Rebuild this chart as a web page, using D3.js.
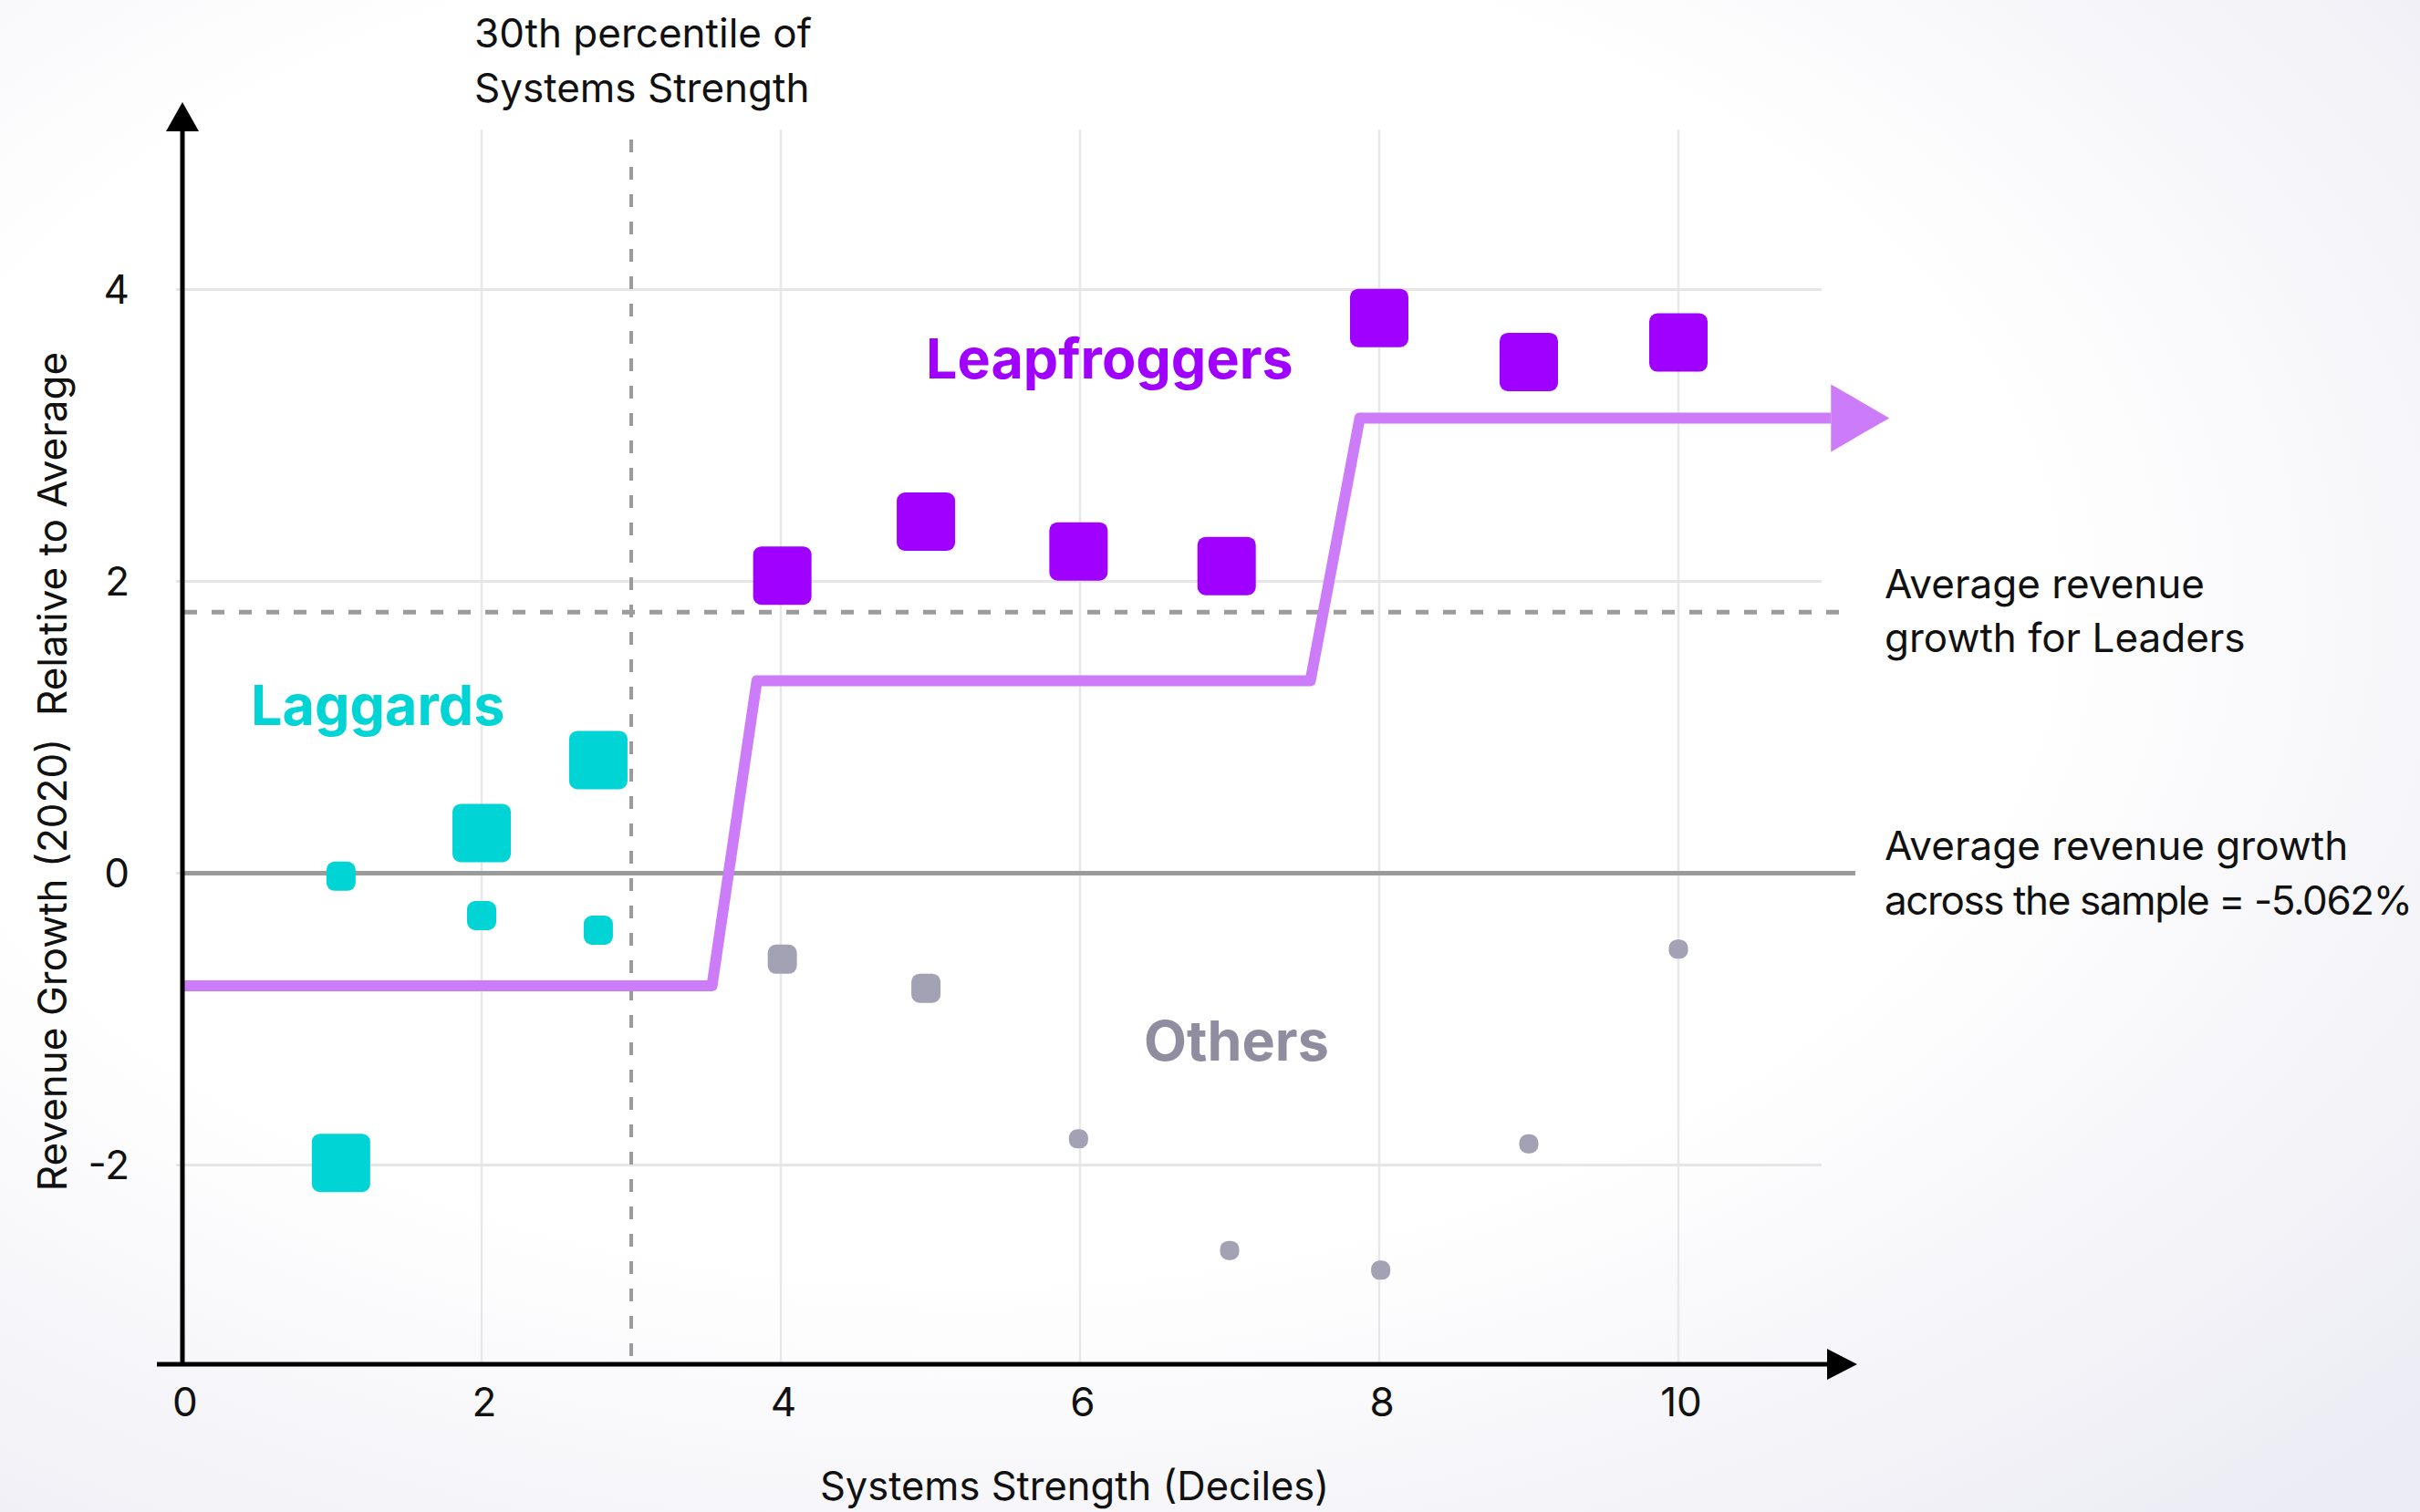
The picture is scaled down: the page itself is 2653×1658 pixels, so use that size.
<!DOCTYPE html>
<html>
<head>
<meta charset="utf-8">
<script src="https://cdn.jsdelivr.net/npm/d3@7"></script>
<style>
  body { margin: 0; padding: 0; overflow: hidden; }
  svg { display: block; }
</style>
</head>
<body>
<div id="chart"></div>
<script>
// data
var laggardX = [1.06, 1.06, 2.0, 2.0, 2.78, 2.78];
var laggardY = [-0.02, -1.985, 0.276, -0.29, 0.776, -0.39];
var laggardW = [2, 3, 3, 2, 3, 2];

var leapX = [4.01, 4.97, 5.99, 6.98, 8.0, 9.0, 10.0];
var leapY = [2.04, 2.41, 2.206, 2.106, 3.806, 3.504, 3.638];
var leapW = [3, 3, 3, 3, 3, 3, 3];

var otherX = [4.01, 4.97, 5.99, 7.0, 8.01, 9.0, 10.0];
var otherY = [-0.589, -0.788, -1.82, -2.585, -2.72, -1.854, -0.52];
var otherW = [2, 2, 1, 1, 1, 1, 1];

var stepX = [0, 3.54, 3.84, 7.54, 7.87, 11.02];
var stepY = [-0.771, -0.771, 1.32, 1.32, 3.12, 3.12];

var xTicks = [0, 2, 4, 6, 8, 10];
var yTicks = [-2, 0, 2, 4];
var percentileX = 3;
var leadersAvg = 1.79;
var sampleAvg = 0;

const width = 2653;
const height = 1658;

const svg = d3.select('#chart').append('svg').attr('width', width).attr('height', height);

// soft background
const defs = svg.append('defs');
const bg = defs.append('radialGradient').attr('id', 'bg')
  .attr('cx', '40%').attr('cy', '40%').attr('r', '80%');
bg.append('stop').attr('offset', '55%').attr('stop-color', '#ffffff');
bg.append('stop').attr('offset', '100%').attr('stop-color', '#ececf4');
svg.append('rect').attr('width', width).attr('height', height).attr('fill', 'url(#bg)');

const x = d3.scaleLinear().domain([0, 10]).range([200, 1840]);
const y = d3.scaleLinear().domain([-2, 4]).range([1277.6, 317.6]);

const plotTop = 142, plotBottom = 1496, plotRight = 1997;

// grid
const grid = svg.append('g');
grid.selectAll('.vg').data(xTicks.filter(d => d > 0)).enter().append('line')
  .attr('x1', d => x(d)).attr('x2', d => x(d))
  .attr('y1', plotTop).attr('y2', plotBottom)
  .attr('stroke', '#e8e8ea').attr('stroke-width', 2.5);
grid.selectAll('.hg').data(yTicks).enter().append('line')
  .attr('x1', 193).attr('x2', plotRight)
  .attr('y1', d => y(d)).attr('y2', d => y(d))
  .attr('stroke', '#e6e6e8').attr('stroke-width', 3);

// reference lines
svg.append('line')
  .attr('x1', 202).attr('x2', 2034)
  .attr('y1', y(sampleAvg)).attr('y2', y(sampleAvg))
  .attr('stroke', '#9b9b9b').attr('stroke-width', 5);
svg.append('line')
  .attr('x1', 202).attr('x2', 2029)
  .attr('y1', y(leadersAvg)).attr('y2', y(leadersAvg))
  .attr('stroke', '#9b9b9b').attr('stroke-width', 5)
  .attr('stroke-dasharray', '14,16');
svg.append('line')
  .attr('x1', x(percentileX)).attr('x2', x(percentileX))
  .attr('y1', 153).attr('y2', plotBottom)
  .attr('stroke', '#9b9b9b').attr('stroke-width', 4)
  .attr('stroke-dasharray', '14,16');

// step trend
const stepData = stepX.map((d, i) => [d, stepY[i]]);
const line = d3.line().x(d => x(d[0])).y(d => y(d[1]));
svg.append('path').datum(stepData)
  .attr('d', line)
  .attr('fill', 'none')
  .attr('stroke', '#cd7cf9')
  .attr('stroke-width', 12)
  .attr('stroke-linejoin', 'round');
const last = stepData[stepData.length - 1];
const ax = x(last[0]), ay = y(last[1]);
svg.append('path')
  .attr('d', `M${ax},${ay - 37}L${ax + 64},${ay}L${ax},${ay + 37}Z`)
  .attr('fill', '#cd7cf9');

// points
const sizeScale = d3.scaleOrdinal().domain([1, 2, 3]).range([21, 32, 64]);
function drawGroup(xs, ys, ws, color) {
  const pts = xs.map((d, i) => ({ x: d, y: ys[i], w: ws[i] }));
  svg.append('g').selectAll('rect').data(pts).enter().append('rect')
    .attr('x', d => x(d.x) - sizeScale(d.w) / 2)
    .attr('y', d => y(d.y) - sizeScale(d.w) / 2)
    .attr('width', d => sizeScale(d.w))
    .attr('height', d => sizeScale(d.w))
    .attr('rx', d => Math.min(9, sizeScale(d.w) / 2 - 1))
    .attr('fill', color);
}
drawGroup(otherX, otherY, otherW, '#a3a1b4');
drawGroup(laggardX, laggardY, laggardW, '#00d4d4');
drawGroup(leapX, leapY, leapW, '#a000ff');

// axes
svg.append('line').attr('x1', 200).attr('x2', 200).attr('y1', plotBottom).attr('y2', 140)
  .attr('stroke', '#000').attr('stroke-width', 5);
svg.append('path').attr('d', 'M182,144L200,112L218,144Z').attr('fill', '#000');
svg.append('line').attr('x1', 172).attr('x2', 2006).attr('y1', plotBottom).attr('y2', plotBottom)
  .attr('stroke', '#000').attr('stroke-width', 5);
svg.append('path').attr('d', `M2003,${plotBottom - 17}L2036,${plotBottom}L2003,${plotBottom + 17}Z`).attr('fill', '#000');

const font = 'Inter, sans-serif';

svg.selectAll('.xt').data(xTicks).enter().append('text')
  .attr('x', d => x(d) + 3).attr('y', 1553)
  .attr('text-anchor', 'middle')
  .attr('font-family', font).attr('font-size', 44).attr('fill', '#111')
  .text(d => d);
svg.selectAll('.yt').data(yTicks).enter().append('text')
  .attr('x', 142).attr('y', d => y(d) + 15)
  .attr('text-anchor', 'end')
  .attr('font-family', font).attr('font-size', 44).attr('fill', '#111')
  .text(d => d);

// axis titles
svg.append('text')
  .attr('x', 1178).attr('y', 1645)
  .attr('text-anchor', 'middle')
  .attr('font-family', font).attr('font-size', 43.5).attr('fill', '#111')
  .text('Systems Strength (Deciles)');
svg.append('text')
  .attr('transform', 'translate(73,846) rotate(-90)')
  .attr('text-anchor', 'middle')
  .attr('font-family', font).attr('font-size', 44).attr('fill', '#111')
  .attr('xml:space', 'preserve')
  .text('Revenue Growth (2020)  Relative to Average');

// annotations
function twoLines(x0, y0, gap, a, b, squeeze) {
  const t = svg.append('text').attr('font-family', font).attr('font-size', 44).attr('fill', '#111');
  t.append('tspan').attr('x', x0).attr('y', y0).text(a);
  t.append('tspan').attr('x', x0).attr('y', y0 + gap)
    .attr('letter-spacing', squeeze || 0).text(b);
}
twoLines(520, 52, 60, '30th percentile of', 'Systems Strength');
twoLines(2066, 656, 59, 'Average revenue', 'growth for Leaders');
twoLines(2066, 943, 60, 'Average revenue growth', 'across the sample = -5.062%', -1.4);

// group labels
svg.append('text').attr('x', 1015).attr('y', 415)
  .attr('font-family', font).attr('font-weight', 'bold').attr('font-size', 61).attr('fill', '#a000ff')
  .text('Leapfroggers');
svg.append('text').attr('x', 275).attr('y', 795)
  .attr('font-family', font).attr('font-weight', 'bold').attr('font-size', 61).attr('fill', '#00d4d4')
  .text('Laggards');
svg.append('text').attr('x', 1254).attr('y', 1163)
  .attr('font-family', font).attr('font-weight', 'bold').attr('font-size', 61).attr('fill', '#8f8d9f')
  .text('Others');
</script>
</body>
</html>
